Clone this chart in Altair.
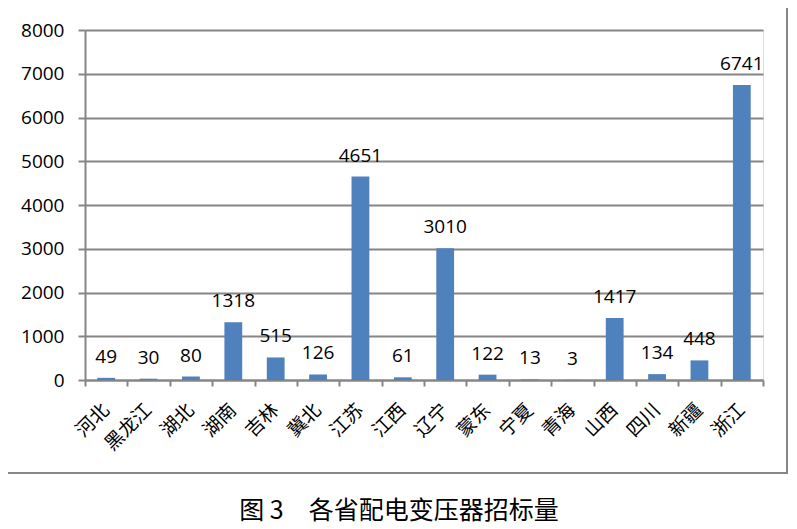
import altair as alt
import pandas as pd

provinces = ["河北", "黑龙江", "湖北", "湖南", "吉林", "冀北", "江苏", "江西",
             "辽宁", "蒙东", "宁夏", "青海", "山西", "四川", "新疆", "浙江"]
amounts = [49, 30, 80, 1318, 515, 126, 4651, 61, 3010, 122, 13, 3, 1417, 134, 448, 6741]
y_ticks = [0, 1000, 2000, 3000, 4000, 5000, 6000, 7000, 8000]
caption = ["图 3　各省配电变压器招标量"]

df = pd.DataFrame({"省份": provinces, "数量": amounts})

GRAY = "#868686"
NUM_FONT = "Open Sans"
CJK_FONT = "Noto Sans CJK SC"
W, H = 678, 350

x_enc = alt.X(
    "省份:N", sort=provinces, title=None,
    scale=alt.Scale(paddingInner=0, paddingOuter=0),
    axis=alt.Axis(labels=False),
)
y_enc = alt.Y(
    "数量:Q", title=None,
    scale=alt.Scale(domain=[0, 8000], nice=False),
    axis=alt.Axis(values=y_ticks, format="d"),
)

bars = alt.Chart(df).mark_bar(color="#4F81BD", width={"band": 0.42}).encode(
    x=x_enc, y=y_enc
)

labels = alt.Chart(df).mark_text(
    font=NUM_FONT, fontSize=19, color="black", baseline="alphabetic", dy=-15
).encode(x=x_enc, y=y_enc, text="数量:Q")

cat_labels = alt.Chart(df).mark_text(
    font=CJK_FONT, fontSize=19, color="black", align="right",
    baseline="middle", angle=315
).encode(x=x_enc, y=alt.value(H + 27), text="省份:N")

frame = alt.Chart(pd.DataFrame({"k": [0]})).mark_rect(
    fill=None, stroke=GRAY, strokeWidth=2
).encode(
    x=alt.value(-78), x2=alt.value(702), y=alt.value(-24), y2=alt.value(443)
)

cap = alt.Chart(pd.DataFrame({"t": caption})).mark_text(
    font=CJK_FONT, fontSize=25, color="black", align="center", baseline="middle"
).encode(text="t:N", x=alt.value(314), y=alt.value(481))

chart = alt.layer(bars, labels, cat_labels, frame, cap).properties(
    width=W, height=H,
    autosize=alt.AutoSizeParams(type="none"),
    padding={"left": 77, "top": 22, "right": 26, "bottom": 147},
).configure_view(stroke=None).configure(background="white").configure_axisX(
    tickBand="extent", ticks=True, tickSize=6, tickColor=GRAY, tickWidth=2,
    domainColor=GRAY, domainWidth=2, grid=False,
).configure_axisY(
    labelFont=NUM_FONT, labelFontSize=19, labelColor="black", labelPadding=14,
    tickSize=7, tickColor=GRAY, tickWidth=2, domainColor=GRAY, domainWidth=2,
    grid=True, gridColor=GRAY, gridWidth=2,
)

chart.save("out.html", embed_options={"renderer": "svg", "actions": False})
